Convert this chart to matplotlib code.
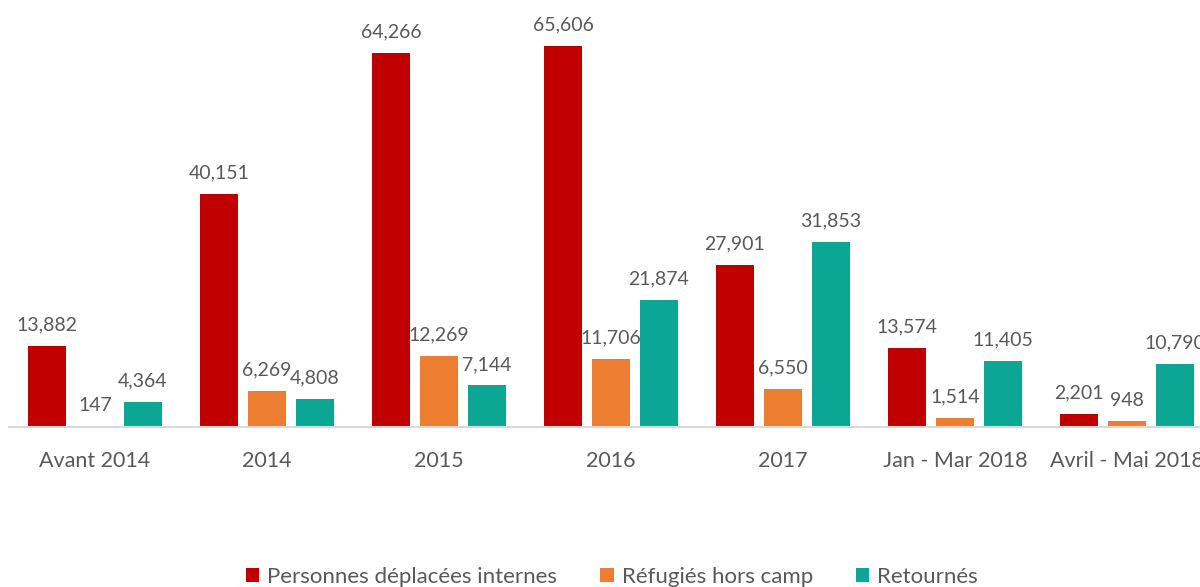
import matplotlib
matplotlib.use("Agg")
import matplotlib.pyplot as plt
import numpy as np

categories = ["Avant 2014", "2014", "2015", "2016", "2017", "Jan - Mar 2018", "Avril - Mai 2018"]
series_names = ["Personnes déplacées internes", "Réfugiés hors camp", "Retournés"]
idp = [13882, 40151, 64266, 65606, 27901, 13574, 2201]
refugees = [147, 6269, 12269, 11706, 6550, 1514, 948]
returnees = [4364, 4808, 7144, 21874, 31853, 11405, 10790]
colors = ["#C00000", "#ED7D31", "#0CA695"]

plt.rcParams['font.family'] = ['Lato', 'DejaVu Sans']
text_color = "#595959"

fig = plt.figure(figsize=(12, 5.87), dpi=100)
W, H = 1200, 587
left_px, right_px = 9, 1213
base_px, top_px = 427, 20
ax = fig.add_axes([left_px / W, (H - base_px) / H, (right_px - left_px) / W, (base_px - top_px) / H])

x = np.arange(len(categories))
bw = 0.221
off = 0.279
handles = []
for i, (vals, c) in enumerate(zip([idp, refugees, returnees], colors)):
    pos = x + (i - 1) * off
    b = ax.bar(pos, vals, width=bw, color=c, label=series_names[i], zorder=2)
    handles.append(b)
    for p, v in zip(pos, vals):
        ax.annotate(f"{v:,}", (p, v), xytext=(0, 9), textcoords="offset points",
                    ha="center", va="bottom", fontsize=14, color=text_color,
                    annotation_clip=False)

ax.set_xlim(-0.5, len(categories) - 0.5)
ax.set_ylim(0, 70000)
ax.set_xticks(x)
ax.set_xticklabels(categories, fontsize=15.5, color=text_color)
ax.tick_params(axis='x', length=0, pad=17)
ax.set_yticks([])
for s in ["top", "right", "left"]:
    ax.spines[s].set_visible(False)
ax.spines["bottom"].set_color("#D9D9D9")
ax.spines["bottom"].set_linewidth(1.5)

fig.legend(handles=handles, labels=series_names, loc="center", bbox_to_anchor=(612 / W, (H - 577) / H),
           ncol=3, frameon=False, fontsize=16, handlelength=0.6, handleheight=0.6,
           handletextpad=0.35, columnspacing=1.95, labelcolor=text_color)

fig.savefig("out.png", dpi=100)
